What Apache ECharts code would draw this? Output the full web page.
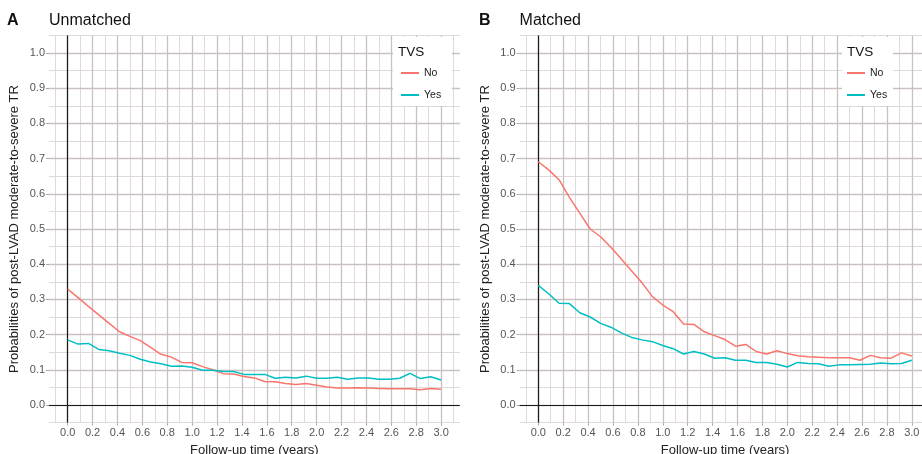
<!DOCTYPE html>
<html>
<head>
<meta charset="utf-8">
<script src="https://cdn.jsdelivr.net/npm/echarts@6/dist/echarts.min.js"></script>
<style>
html,body{margin:0;padding:0;background:#fff;}
#chart{width:922px;height:454px;}
</style>
</head>
<body>
<div id="chart"></div>
<script>
// Follow-up months (converted to years when building series)
const months = [0,1,2,3,4,5,6,7,8,9,10,11,12,13,14,15,16,17,18,19,20,21,22,23,24,25,26,27,28,29,30,31,32,33,34,35,36];

// Panel A: Unmatched
const unmatchedNo  = [0.329,0.305,0.280,0.256,0.232,0.208,0.195,0.183,0.164,0.144,0.136,0.121,0.120,0.109,0.100,0.089,0.088,0.081,0.077,0.067,0.066,0.061,0.058,0.061,0.056,0.051,0.048,0.048,0.049,0.048,0.047,0.046,0.046,0.046,0.043,0.047,0.045];
const unmatchedYes = [0.185,0.173,0.175,0.158,0.154,0.147,0.141,0.130,0.122,0.117,0.110,0.111,0.107,0.099,0.099,0.095,0.095,0.087,0.087,0.087,0.076,0.079,0.077,0.082,0.076,0.076,0.079,0.073,0.077,0.077,0.073,0.073,0.076,0.090,0.075,0.080,0.071];

// Panel B: Matched
const matchedNo  = [0.691,0.668,0.640,0.590,0.545,0.500,0.478,0.448,0.415,0.381,0.347,0.308,0.284,0.265,0.230,0.229,0.208,0.197,0.186,0.167,0.172,0.152,0.145,0.154,0.146,0.140,0.137,0.136,0.134,0.134,0.134,0.127,0.141,0.134,0.133,0.148,0.139];
const matchedYes = [0.340,0.316,0.289,0.288,0.262,0.250,0.232,0.221,0.205,0.192,0.185,0.180,0.169,0.160,0.145,0.152,0.145,0.133,0.134,0.127,0.127,0.121,0.121,0.116,0.108,0.121,0.118,0.117,0.110,0.114,0.114,0.115,0.116,0.119,0.117,0.118,0.127];

// Tick / grid values
const xTicks  = [0,0.2,0.4,0.6,0.8,1.0,1.2,1.4,1.6,1.8,2.0,2.2,2.4,2.6,2.8,3.0];
const xMinor  = [-0.1,0.1,0.3,0.5,0.7,0.9,1.1,1.3,1.5,1.7,1.9,2.1,2.3,2.5,2.7,2.9,3.1];
const yTicks  = [0,0.1,0.2,0.3,0.4,0.5,0.6,0.7,0.8,0.9,1.0];
const yMinor  = [-0.05,0.05,0.15,0.25,0.35,0.45,0.55,0.65,0.75,0.85,0.95,1.05];

const panelTitles = ['Unmatched','Matched'];
const panelTags = ['A','B'];
const legendTitle = 'TVS';
const groupNames = ['No','Yes'];
const xName = 'Follow-up time (years)';
const yName = 'Probabilities of post-LVAD moderate-to-severe TR';

const RED = '#F8766D', TEAL = '#00BFC4';
const MAJOR = '#c9c1c1', MINOR = '#dfd9d9';
const FONT = "'Liberation Sans', Arial, Helvetica, sans-serif";

function pairs(vals){ return months.map((m,i)=>[m/12, vals[i]]); }

const grids = [
  {left:49, top:35.4, width:410.8, height:387.2, outerBoundsMode:'none', containLabel:false},
  {left:519.6, top:35.4, width:410.9, height:387.2, outerBoundsMode:'none', containLabel:false}
];

function xAxisFor(i){
  return {
    type:'value', gridIndex:i, min:-0.15, max:3.15,
    name:xName, nameLocation:'middle', nameGap:19,
    nameTextStyle:{fontFamily:FONT, fontSize:13, color:'#222'},
    axisLine:{show:false, onZero:false},
    axisTick:{show:true, length:3, customValues:xTicks, lineStyle:{color:'#aaa'}},
    axisLabel:{customValues:xTicks, margin:5, fontFamily:FONT, fontSize:11, color:'#555',
      formatter:v=>Number(v).toFixed(1)},
    splitLine:{show:false}
  };
}
function yAxisFor(i){
  return {
    type:'value', gridIndex:i, min:-0.05, max:1.05,
    name:yName, nameLocation:'middle', nameGap:28,
    nameTextStyle:{fontFamily:FONT, fontSize:13, color:'#222'},
    axisLine:{show:false, onZero:false},
    axisTick:{show:true, length:3, customValues:yTicks, lineStyle:{color:'#aaa'}},
    axisLabel:{customValues:yTicks, margin:4, fontFamily:FONT, fontSize:11, color:'#555',
      formatter:v=>Number(v).toFixed(1)},
    splitLine:{show:false}
  };
}

function gridLinesSeries(i){
  const data = [];
  xMinor.forEach(v=>data.push({xAxis:v, lineStyle:{color:MINOR, width:1, type:'solid'}}));
  yMinor.forEach(v=>data.push({yAxis:v, lineStyle:{color:MINOR, width:1, type:'solid'}}));
  xTicks.forEach(v=>data.push({xAxis:v, lineStyle:{color:MAJOR, width:1.3, type:'solid'}}));
  yTicks.forEach(v=>data.push({yAxis:v, lineStyle:{color:MAJOR, width:1.3, type:'solid'}}));
  return {
    type:'line', name:'_grid'+i, xAxisIndex:i, yAxisIndex:i, data:[], z:1,
    silent:true, symbol:'none',
    markLine:{z:1, silent:true, symbol:['none','none'], label:{show:false}, animation:false,
      emphasis:{disabled:true}, data:data}
  };
}
function zeroLinesSeries(i){
  return {
    type:'line', name:'_zero'+i, xAxisIndex:i, yAxisIndex:i, data:[], z:2,
    silent:true, symbol:'none',
    markLine:{z:2, silent:true, symbol:['none','none'], label:{show:false}, animation:false,
      emphasis:{disabled:true},
      data:[{xAxis:0, lineStyle:{color:'#1a1a1a', width:1.2, type:'solid'}},
            {yAxis:0, lineStyle:{color:'#1a1a1a', width:1.2, type:'solid'}}]}
  };
}
function dataSeries(i, name, vals, color){
  return {
    type:'line', name:name, xAxisIndex:i, yAxisIndex:i, data:pairs(vals), z:3,
    symbol:'none', showSymbol:false, smooth:false, color:color,
    lineStyle:{color:color, width:1.5}, emphasis:{disabled:true}
  };
}

const legendBoxes = [
  {x:393, y:37, w:59, h:69, tx:398, kx:401},
  {x:842, y:37, w:51, h:69, tx:847, kx:847}
];

const graphics = [];
legendBoxes.forEach(b=>{
  graphics.push({type:'rect', z:100, shape:{x:b.x, y:b.y, width:b.w, height:b.h}, style:{fill:'#fff'}, silent:true});
  graphics.push({type:'text', z:101, x:b.tx, y:52, style:{text:legendTitle, fill:'#111', font:'13.5px '+FONT, textVerticalAlign:'middle', textAlign:'left'}});
});
graphics.push({type:'text', x:7, y:21, style:{text:panelTags[0], fill:'#111', font:'bold 16px '+FONT, textVerticalAlign:'middle'}});
graphics.push({type:'text', x:49, y:21, style:{text:panelTitles[0], fill:'#111', font:'16px '+FONT, textVerticalAlign:'middle'}});
graphics.push({type:'text', x:479, y:21, style:{text:panelTags[1], fill:'#111', font:'bold 16px '+FONT, textVerticalAlign:'middle'}});
graphics.push({type:'text', x:519.6, y:21, style:{text:panelTitles[1], fill:'#111', font:'16px '+FONT, textVerticalAlign:'middle'}});

const legends = legendBoxes.map(b=>({
  data:groupNames, orient:'vertical', left:b.kx, top:67.5, padding:0, z:200,
  itemWidth:18, itemHeight:2, itemGap:11, icon:'rect', selectedMode:false,
  textStyle:{fontFamily:FONT, fontSize:10.5, color:'#222', padding:[0,0,0,0]}
}));

const chart = echarts.init(document.getElementById('chart'), null, {renderer:'canvas'});
chart.setOption({
  animation:false,
  backgroundColor:'#fff',
  grid:grids,
  xAxis:[xAxisFor(0), xAxisFor(1)],
  yAxis:[yAxisFor(0), yAxisFor(1)],
  legend:legends,
  graphic:graphics,
  series:[
    gridLinesSeries(0), gridLinesSeries(1),
    zeroLinesSeries(0), zeroLinesSeries(1),
    dataSeries(0, groupNames[0], unmatchedNo, RED),
    dataSeries(0, groupNames[1], unmatchedYes, TEAL),
    dataSeries(1, groupNames[0], matchedNo, RED),
    dataSeries(1, groupNames[1], matchedYes, TEAL)
  ]
});
</script>
</body>
</html>
